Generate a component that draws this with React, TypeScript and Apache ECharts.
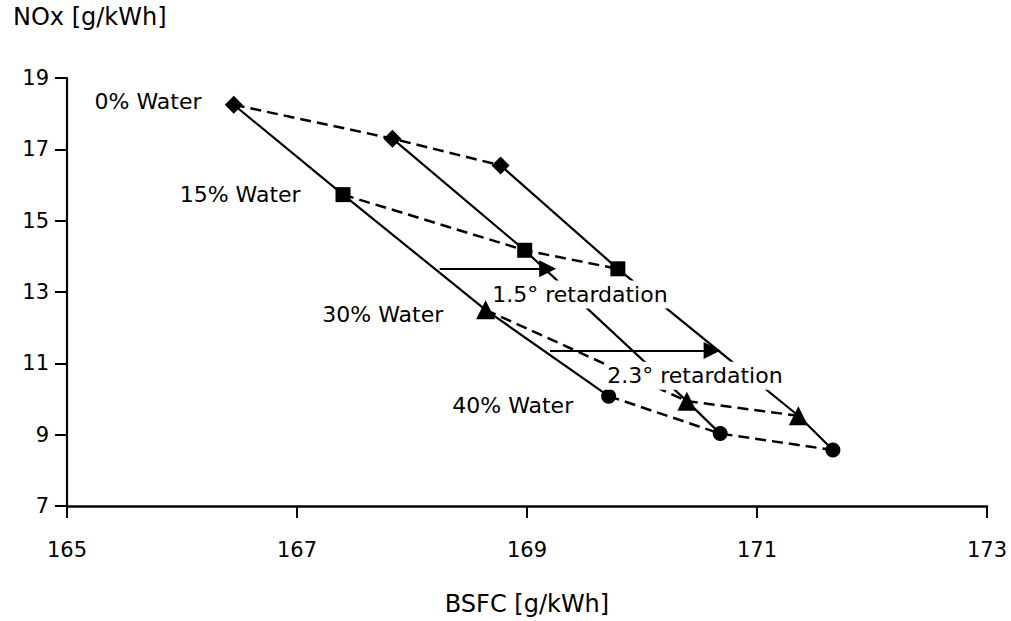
import React, { useEffect, useRef } from "react";
import * as echarts from "echarts";

const FONT = "'DejaVu Sans', 'Liberation Sans', sans-serif";
const INK = "#000";

// Axis ticks
const xTicks = [165, 167, 169, 171, 173];
const yTicks = [7, 9, 11, 13, 15, 17, 19];

// Water content groups (dashed lines); i-th point of each group = i-th retardation
const waterLevels = ["0% Water", "15% Water", "30% Water", "40% Water"];
const bsfc0 = [166.45, 167.83, 168.77];
const nox0 = [18.25, 17.3, 16.55];
const bsfc15 = [167.4, 168.98, 169.79];
const nox15 = [15.73, 14.17, 13.65];
const bsfc30 = [168.64, 170.39, 171.36];
const nox30 = [12.5, 9.94, 9.53];
const bsfc40 = [169.71, 170.68, 171.66];
const nox40 = [10.08, 9.03, 8.57];

// Injection timing (solid lines)
const retardations = ["0° retardation", "1.5° retardation", "2.3° retardation"];

// Annotations (anchor = left edge / vertical middle of text, in data units)
const annotationText = ["0% Water", "15% Water", "30% Water", "40% Water", "1.5° retardation", "2.3° retardation"];
const annotationX = [165.24, 165.98, 167.22, 168.35, 168.68, 169.68];
const annotationY = [18.34, 15.73, 12.36, 9.83, 12.93, 10.65];
const annotationMasked = [false, false, false, false, true, true];

// Arrows
const arrowStartX = [168.24, 169.2];
const arrowEndX = [169.18, 170.61];
const arrowY = [13.65, 11.36];

const groupsX = [bsfc0, bsfc15, bsfc30, bsfc40];
const groupsY = [nox0, nox15, nox30, nox40];
const groupSymbols = ["diamond", "rect", "triangle", "circle"];
const groupSymbolSizes = [18, 15, 19, 15];

function buildOption() {
  const series: any[] = [];

  retardations.forEach((name, i) => {
    series.push({
      name,
      type: "line",
      symbol: "none",
      z: 2,
      lineStyle: { color: "#000", width: 2.2 },
      data: groupsX.map((gx, g) => [gx[i], groupsY[g][i]]),
    });
  });

  waterLevels.forEach((name, g) => {
    series.push({
      name,
      type: "line",
      z: 3,
      symbol: groupSymbols[g],
      symbolSize: groupSymbolSizes[g],
      itemStyle: { color: "#000" },
      lineStyle: { color: "#000", width: 2.5, type: [11, 6] },
      data: groupsX[g].map((x, i) => [x, groupsY[g][i]]),
    });
  });

  series.push({
    name: "arrows",
    type: "line",
    data: [],
    z: 4,
    markLine: {
      silent: true,
      animation: false,
      symbol: ["none", "triangle"],
      symbolSize: 17,
      label: { show: false },
      lineStyle: { color: "#000", width: 2.2, type: "solid" },
      data: arrowStartX.map((sx, i) => [
        { coord: [sx, arrowY[i]] },
        { coord: [arrowEndX[i], arrowY[i]] },
      ]),
    },
  });

  series.push({
    name: "annotations",
    type: "scatter",
    z: 10,
    symbolSize: 0,
    silent: true,
    itemStyle: { opacity: 1, color: "#000" },
    data: annotationText.map((t, i) => ({
      name: t,
      value: [annotationX[i], annotationY[i]],
      label: annotationMasked[i]
        ? { backgroundColor: "#fff", padding: [3, 2] }
        : { padding: 0 },
    })),
    label: {
      show: true,
      position: "right",
      distance: 0,
      formatter: "{b}",
      fontFamily: FONT,
      fontSize: 22,
      color: INK,
      opacity: 1,
      align: "left",
      verticalAlign: "middle",
    },
  });

  return {
    animation: false,
    backgroundColor: "#fff",
    title: {
      text: "NOx [g/kWh]",
      left: 13,
      top: 5,
      padding: 0,
      textStyle: { fontFamily: FONT, fontSize: 24, fontWeight: "normal", color: INK },
    },
    grid: { left: 67, right: 24, top: 78, bottom: 107, containLabel: false },
    xAxis: {
      type: "value",
      min: xTicks[0],
      max: xTicks[xTicks.length - 1],
      interval: 2,
      name: "BSFC [g/kWh]",
      nameLocation: "middle",
      nameGap: 86,
      nameTextStyle: { fontFamily: FONT, fontSize: 24, color: INK },
      axisLine: { lineStyle: { color: "#000", width: 2.5 } },
      axisTick: { length: 12, lineStyle: { color: "#000", width: 2 } },
      axisLabel: { margin: 33, fontFamily: FONT, fontSize: 21, color: INK },
      splitLine: { show: false },
    },
    yAxis: {
      type: "value",
      min: yTicks[0],
      max: yTicks[yTicks.length - 1],
      axisLine: { show: true, lineStyle: { color: "#000", width: 2.2 } },
      axisTick: { show: true, length: 12, customValues: yTicks, lineStyle: { color: "#000", width: 2 } },
      axisLabel: { margin: 18, customValues: yTicks, fontFamily: FONT, fontSize: 21, color: INK },
      splitLine: { show: false },
    },
    series,
  };
}

export default function App() {
  const ref = useRef<HTMLDivElement>(null);
  useEffect(() => {
    const chart = echarts.init(ref.current as HTMLDivElement, null, { renderer: "svg" });
    chart.setOption(buildOption() as any);
    return () => chart.dispose();
  }, []);
  return (
    <div
      ref={ref}
      style={{ position: "absolute", left: 0, top: 0, width: 1011, height: 621, background: "#fff" }}
    />
  );
}
